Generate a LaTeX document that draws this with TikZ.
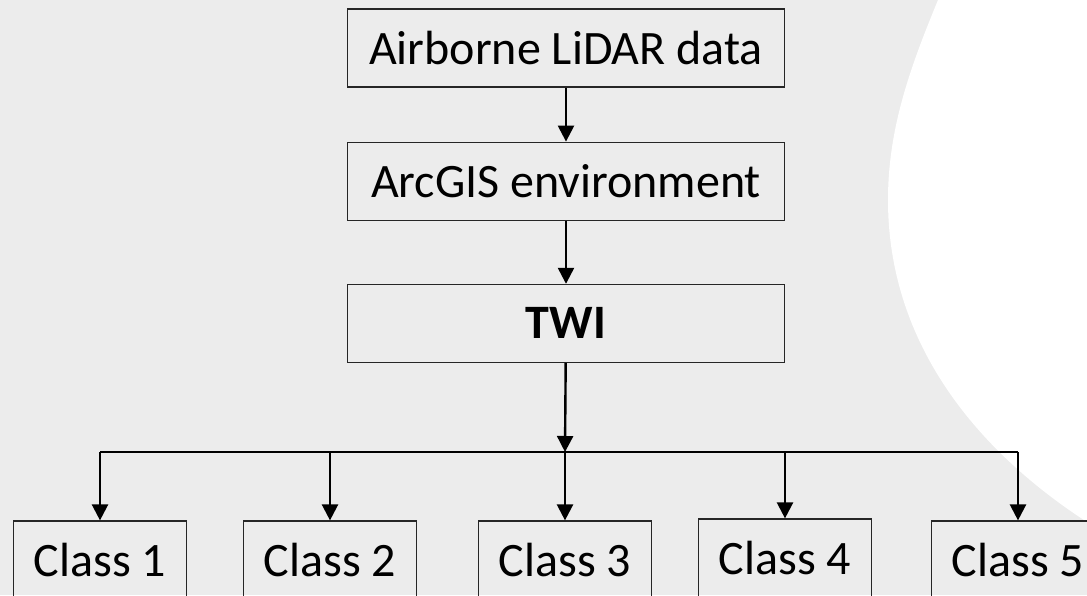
\documentclass[tikz,border=0pt]{standalone}
\usepackage{fontspec}
\setmainfont{Carlito}
\usepackage{tikz}
\usetikzlibrary{arrows.meta, positioning}
\usepackage{xcolor}
\definecolor{bggray}{RGB}{236,236,236}

\begin{document}
\begin{tikzpicture}[ % Starts the TikZ drawing environment
        x=1pt, y=1pt, % One unit is one point
        every node/.style={font=\fontsize{48}{57}\selectfont, inner sep=0pt}, % Default style for all nodes
        stepbox/.style={rectangle, draw=black!85, line width=1.2pt, minimum width=437pt, minimum height=78pt}, % Boxes of the main flow
        classbox/.style={rectangle, draw=black!85, line width=1.2pt, minimum width=173pt, minimum height=78pt}, % Boxes of the classes
        flowarrow/.style={line width=2.4pt, -{Triangle[length=16pt, width=16pt]}} % Custom style for arrows
    ]
    % --- Background and page frame ---
    \useasboundingbox (0,0) rectangle (1087,595);
    \clip (0,0) rectangle (1087,595);
    \fill[bggray] (0,0) rectangle (1087,595);
    \fill[white] (945,612) -- (938,595) .. controls (909,525) and (888,465) .. (888,395)
        .. controls (888,245) and (985,139) .. (1087,73) -- (1100,65) -- (1100,612) -- cycle;
    % --- TikZ Nodes (positioning and content) ---
    \node (lidar) [stepbox] at (566,547) {Airborne LiDAR data};
    \node (arcgis) [stepbox, below=54pt of lidar] {ArcGIS environment};
    \node (twi) [stepbox, below=63pt of arcgis] {\textbf{TWI}};
    \coordinate (split) at (565,143); % Where the branch line starts
    \node (c1) [classbox] at (100,35) {Class 1};
    \node (c2) [classbox] at (330,35) {Class 2};
    \node (c3) [classbox] at (565,35) {Class 3};
    \node (c4) [classbox] at (785,37) {Class 4};
    \node (c5) [classbox] at (1018,35) {Class 5};
    % --- TikZ Connections (drawing arrows between nodes) ---
    \draw[flowarrow] (lidar) -- (arcgis);
    \draw[flowarrow] (arcgis) -- (twi);
    \draw[flowarrow] (twi) -- (split);
    \draw[line width=2.4pt] (c1.north |- split) -- (c5.north |- split);
    \foreach \c in {c1, c2, c3, c4, c5}
        \draw[flowarrow] (\c.north |- split) -- (\c.north);
\end{tikzpicture}
\end{document}
